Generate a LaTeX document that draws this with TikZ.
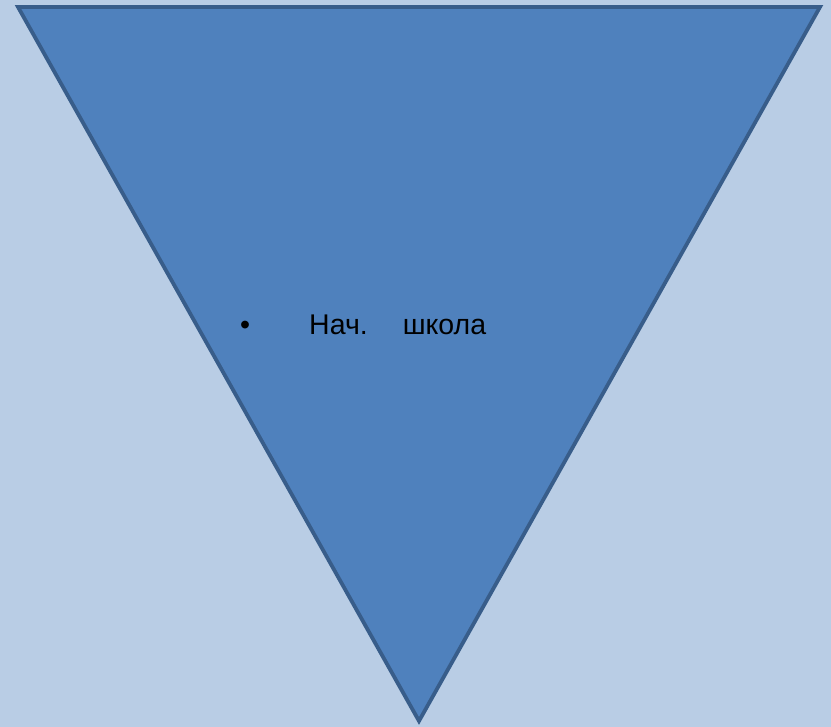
\documentclass[tikz,border=0pt]{standalone}
\usepackage{fontspec}
\setmainfont{Liberation Sans}
\usetikzlibrary{positioning}
\definecolor{bgblue}{RGB}{185,205,229}
\definecolor{trifill}{RGB}{79,129,189}
\definecolor{triline}{RGB}{56,93,138}
\tikzset{
  funnel/.style={draw=triline,fill=trifill,line width=3.8pt,line join=miter},
  label text/.style={inner sep=0pt,font=\fontsize{28.5}{32}\selectfont,text=black}
}
\begin{document}
\begin{tikzpicture}[x=1pt,y=1pt,yscale=-1,xscale=1]
%background
\fill [bgblue] (0,0) rectangle (831,727) ;
\useasboundingbox (0,0) rectangle (831,727) ;

%Shape: Triangle
\coordinate (tl) at (18,7) ;
\coordinate (tr) at (820,7) ;
\coordinate (bt) at (419,721) ;
\draw [funnel] (tl) -- (tr) -- (bt) -- cycle ;

% Text Node
\node [label text,anchor=base] (bul) at (245,335) {•} ;
% Text Node
\node [label text,anchor=base west] (lbl) at (309,335) {Нач.\hspace{35pt}школа} ;

\end{tikzpicture}
\end{document}
